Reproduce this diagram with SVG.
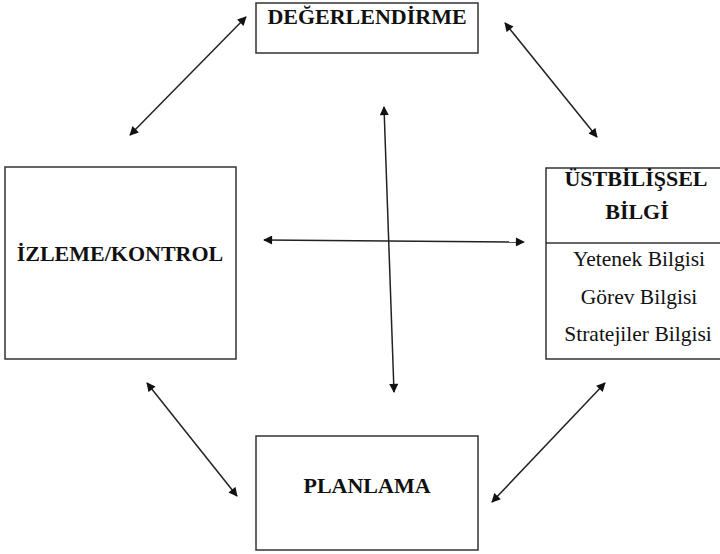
<svg xmlns="http://www.w3.org/2000/svg" width="720" height="554" viewBox="0 0 720 554">
<defs>
<style>
.box{fill:#fff;stroke:#333;stroke-width:1.5}
.t{font-family:'Liberation Serif','DejaVu Serif',serif;font-weight:bold;font-size:22px;fill:#111;text-anchor:middle}
.r{font-family:'Liberation Serif','DejaVu Serif',serif;font-size:21.5px;fill:#111;text-anchor:middle}
.c{stroke:#222;stroke-width:1.5;fill:none;marker-start:url(#a);marker-end:url(#a)}
</style>
<marker id="a" viewBox="0 0 10 10" refX="9" refY="5" markerWidth="10" markerHeight="9" orient="auto-start-reverse" markerUnits="userSpaceOnUse">
<path d="M0,0 L10,5 L0,10 z" fill="#111"/>
</marker>
</defs>
<rect width="720" height="554" fill="#fff"/>
<g id="degerlendirme">
<rect class="box" x="256" y="3" width="222" height="50"/>
<text class="t" x="367" y="24">DEĞERLENDİRME</text>
</g>
<g id="izleme">
<rect class="box" x="5" y="167" width="231" height="192"/>
<text class="t" x="120" y="261">İZLEME/KONTROL</text>
</g>
<g id="ustbilissel">
<rect class="box" x="546" y="168" width="180" height="191"/>
<line class="box" x1="546" y1="243" x2="720" y2="243"/>
<text class="t" x="636" y="186">ÜSTBİLİŞSEL</text>
<text class="t" x="637" y="219">BİLGİ</text>
<text class="r" x="639" y="266">Yetenek Bilgisi</text>
<text class="r" x="639" y="304">Görev Bilgisi</text>
<text class="r" x="638" y="341">Stratejiler Bilgisi</text>
</g>
<g id="planlama">
<rect class="box" x="256" y="436" width="222" height="114"/>
<text class="t" x="367" y="493">PLANLAMA</text>
</g>
<g id="connectors">
<line class="c" x1="246" y1="17" x2="130" y2="135"/>
<line class="c" x1="505" y1="23" x2="597" y2="137"/>
<line class="c" x1="147" y1="383" x2="237" y2="496"/>
<line class="c" x1="605" y1="383" x2="492" y2="502"/>
<line class="c" x1="384" y1="107" x2="394" y2="392"/>
<line class="c" x1="264" y1="240" x2="524" y2="242"/>
</g>
</svg>
